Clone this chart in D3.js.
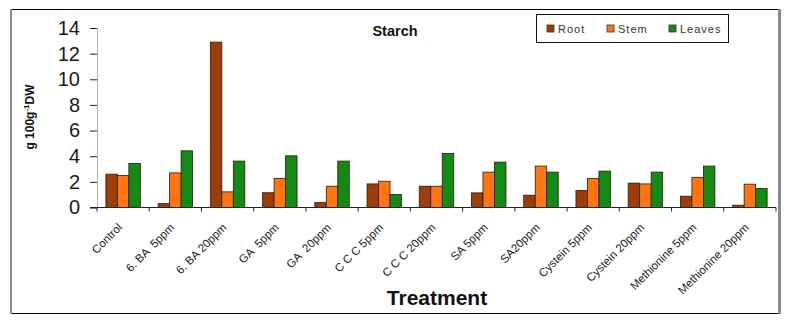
<!DOCTYPE html>
<html>
<head>
<meta charset="utf-8">
<script src="https://cdn.jsdelivr.net/npm/d3@7"></script>
<style>
  body { margin: 0; background: #fff; }
  svg { display: block; font-family: Arial, "Liberation Sans", sans-serif; }
  .xlab { white-space: pre; }
</style>
</head>
<body>
<svg id="chart" width="791" height="324"></svg>
<script>
// data
var categories = ["Control", "6. BA  5ppm", "6. BA 20ppm", "GA  5ppm", "GA  20ppm", "C C C 5ppm",
  "C C C 20ppm", "SA 5ppm", "SA20ppm", "Cystein 5ppm", "Cystein 20ppm", "Methionine 5ppm", "Methionine 20ppm"];
var series = ["Root", "Stem", "Leaves"];
var root   = [2.6, 0.3, 12.9, 1.15, 0.38, 1.84, 1.66, 1.14, 0.96, 1.33, 1.9, 0.88, 0.18];
var stem   = [2.5, 2.7, 1.22, 2.26, 1.66, 2.05, 1.66, 2.76, 3.23, 2.26, 1.84, 2.34, 1.82];
var leaves = [3.44, 4.42, 3.62, 4.03, 3.62, 1.02, 4.22, 3.54, 2.76, 2.84, 2.76, 3.23, 1.48];
var yTicks = [0, 2, 4, 6, 8, 10, 12, 14];
var colors = ["#9c3d0a", "#ff7512", "#138a13"];

var values = [root, stem, leaves];
var rows = categories.map(function(c, i) {
  return {cat: c, vals: series.map(function(s, j) { return {key: s, i: j, v: values[j][i]}; })};
});

var svg = d3.select("#chart");

// outer frame
svg.append("line").attr("x1", 10).attr("x2", 781).attr("y1", 9.5).attr("y2", 9.5).attr("stroke", "#000");
svg.append("line").attr("x1", 10).attr("x2", 781).attr("y1", 313.5).attr("y2", 313.5).attr("stroke", "#000");
svg.append("line").attr("x1", 11).attr("x2", 11).attr("y1", 9).attr("y2", 314).attr("stroke", "#8a8a8a").attr("stroke-width", 2);
svg.append("line").attr("x1", 779.5).attr("x2", 779.5).attr("y1", 9).attr("y2", 314).attr("stroke", "#8a8a8a").attr("stroke-width", 3);

var plotLeft = 97, plotRight = 776, plotTop = 28, plotBottom = 207.5;

var x0 = d3.scaleBand().domain(categories).range([plotLeft, plotRight]).paddingInner(0.34).paddingOuter(0.17);
var x1 = d3.scaleBand().domain(series).range([0, x0.bandwidth()]);
var y = d3.scaleLinear().domain([0, 14]).range([plotBottom, plotTop]);

// y axis
var yAxis = svg.append("g").attr("transform", "translate(" + plotLeft + ",0)")
  .call(d3.axisLeft(y).tickValues(yTicks).tickSize(7).tickPadding(10).tickFormat(d3.format("d")));
yAxis.select(".domain").attr("stroke", "#b5b5b5");
yAxis.selectAll(".tick line").attr("stroke", "#222");
yAxis.selectAll(".tick text").attr("font-size", 20).attr("fill", "#1a1a1a")
  .attr("font-family", "Arial, 'Liberation Sans', sans-serif");

// bars
var groups = svg.append("g").selectAll("g").data(rows).join("g")
  .attr("transform", function(d) { return "translate(" + x0(d.cat) + ",0)"; });
groups.selectAll("rect").data(function(d) { return d.vals; }).join("rect")
  .attr("x", function(d) { return x1(d.key); })
  .attr("y", function(d) { return y(d.v); })
  .attr("width", x1.bandwidth())
  .attr("height", function(d) { return y(0) - y(d.v); })
  .attr("fill", function(d) { return colors[d.i]; })
  .attr("stroke", "#2a1a10").attr("stroke-width", 0.8);

// x axis: ticks between categories
var step = x0.step();
var bounds = d3.range(categories.length + 1).map(function(i) { return plotLeft + i * step; });
svg.append("line").attr("x1", plotLeft - 7).attr("x2", plotRight).attr("y1", plotBottom).attr("y2", plotBottom)
  .attr("stroke", "#222");
svg.append("g").selectAll("line").data(bounds).join("line")
  .attr("x1", function(d) { return d; }).attr("x2", function(d) { return d; })
  .attr("y1", plotBottom).attr("y2", plotBottom + 4).attr("stroke", "#222");

svg.append("g").selectAll("text").data(categories).join("text")
  .attr("class", "xlab")
  .attr("transform", function(d) {
    var cx = x0(d) + x0.bandwidth() / 2;
    return "translate(" + (cx - 6) + "," + (plotBottom + 15) + ") rotate(-45)";
  })
  .attr("text-anchor", "end")
  .attr("dy", "0.7em")
  .attr("font-size", 11.5)
  .attr("fill", "#222")
  .text(function(d) { return d; });

// titles
svg.append("text").attr("x", 395).attr("y", 36).attr("text-anchor", "middle")
  .attr("font-size", 14.5).attr("font-weight", "bold").attr("fill", "#111").text("Starch");
svg.append("text").attr("x", 437).attr("y", 305).attr("text-anchor", "middle")
  .attr("font-size", 21).attr("font-weight", "bold").attr("fill", "#111").text("Treatment");

var yl = svg.append("text").attr("transform", "translate(34,117) rotate(-90)")
  .attr("text-anchor", "middle").attr("font-size", 12).attr("font-weight", "bold").attr("fill", "#111");
yl.append("tspan").text("g 100g");
yl.append("tspan").attr("font-size", 8).attr("dy", -5).text("-1");
yl.append("tspan").attr("dy", 5).text("DW");

// legend
var lg = svg.append("g");
lg.append("rect").attr("x", 536.5).attr("y", 14.5).attr("width", 192).attr("height", 28)
  .attr("fill", "#fff").attr("stroke", "#111");
var legX = [547, 607, 669];
var li = lg.selectAll("g").data(series).join("g")
  .attr("transform", function(d, i) { return "translate(" + legX[i] + ",25)"; });
li.append("rect").attr("width", 7).attr("height", 7)
  .attr("fill", function(d, i) { return colors[i]; }).attr("stroke", "#333").attr("stroke-width", 0.8);
li.append("text").attr("x", 11).attr("y", 7.5).attr("font-size", 11).attr("letter-spacing", 1)
  .attr("fill", "#333").text(function(d) { return d; });
</script>
</body>
</html>
